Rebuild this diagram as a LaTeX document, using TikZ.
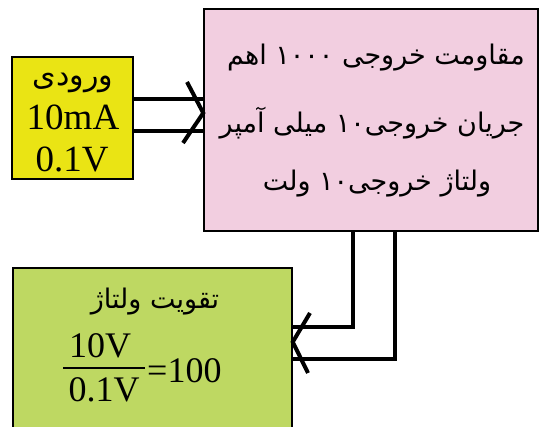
\documentclass[tikz,border=0pt]{standalone}
\usepackage{fontspec}
\setmainfont{Liberation Serif}
\newfontfamily\arabicfont[Script=Arabic]{DejaVu Sans}
\TeXXeTstate=1
\usepackage{tikz}
\usetikzlibrary{calc}

\definecolor{inyellow}{RGB}{234,228,20}
\definecolor{outpink}{RGB}{242,206,224}
\definecolor{gaingreen}{RGB}{190,216,98}

\begin{document}
\begin{tikzpicture}[x=1pt, y=1pt,
    box/.style={draw=black, line width=1.5pt, inner sep=0pt},
    pipe/.style={black, line width=4pt},
    head/.style={black, line width=4pt, line join=miter},
    big/.style={font=\fontsize{#1}{#1}\selectfont, inner sep=0pt},
    farsi/.style={font=\arabicfont\fontsize{#1}{#1}\selectfont, inner sep=0pt}]
      \useasboundingbox (0,0) rectangle (541,426);

      % Boxes
      \node[box, fill=inyellow, minimum width=121, minimum height=122] (in)   at (72.5, 308) {};
      \node[box, fill=outpink,  minimum width=334, minimum height=222] (out)  at (371,  306) {};
      \node[box, fill=gaingreen, minimum width=279, minimum height=178] (gain) at (152.5, 69) {};

      % Input box texts
      \node[farsi=30] (intitle) at (73, 343) {\beginR ورودی\endR};
      \node[big=37]   (inamp)   at (73, 309) {10mA};
      \node[big=37]   (involt)  at (72, 267) {0.1V};

      % Output box texts
      \node[farsi=27] (outres) at (376, 368) {\beginR مقاومت خروجی ۱۰۰۰ اهم\endR};
      \node[farsi=27] (outamp) at (372, 303) {\beginR جریان خروجی۱۰ میلی آمپر\endR};
      \node[farsi=27] (outvlt) at (377, 242) {\beginR ولتاژ خروجی۱۰ ولت\endR};

      % Gain box texts
      \node[farsi=27] (gaintitle) at (155, 124) {\beginR تقویت ولتاژ\endR};
      \node[big=36]   (gainnum)   at (100, 80)  {10V};
      \node[big=36]   (gainden)   at (104, 36)  {0.1V};
      \node[big=36, anchor=west] (gainval) at (147, 55) {=100};
      \draw[black, line width=1.5pt] (63, 58) -- (145, 58);               % fraction bar

      % Input to output
      \draw[pipe] (in.east |- 0,327) -- (out.west |- 0,327);
      \draw[pipe] (in.east |- 0,295) -- (out.west |- 0,295);
      \draw[head] (187, 344) -- (out.west |- 0,313) -- (183, 283);        % open head

      % Output to gain
      \draw[pipe] (out.south -| 353,0) -- (353, 99) -- (gain.east |- 0,99);
      \draw[pipe] (out.south -| 395,0) -- (395, 67) -- (gain.east |- 0,67);
      \draw[head] (310, 113) -- (gain.east |- 0,84) -- (308, 53);         % open head
\end{tikzpicture}
\end{document}
